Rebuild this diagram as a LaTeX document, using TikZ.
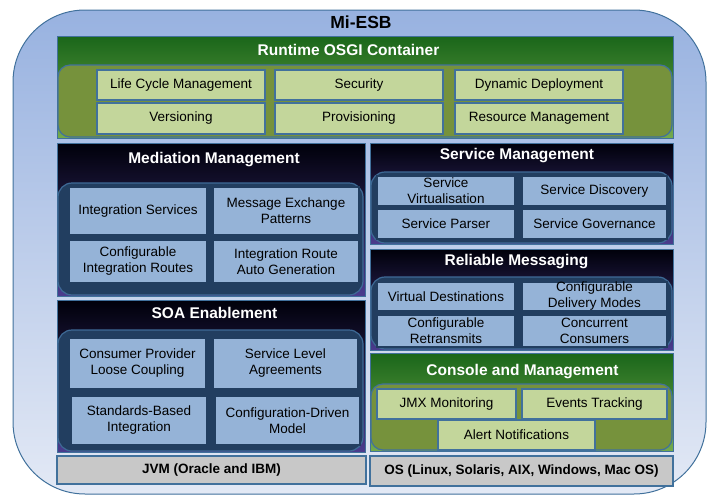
\documentclass[tikz,border=0pt]{standalone}
\usepackage{fontspec}
\setmainfont{Liberation Sans}
\usepackage{tikz}

\definecolor{esbedge}{HTML}{41719C}
\definecolor{skytop}{HTML}{98B2E0}
\definecolor{skybot}{HTML}{E3E9F5}
\definecolor{greentop}{HTML}{1A661A}
\definecolor{greenbot}{HTML}{74AA4C}
\definecolor{olive}{HTML}{76923C}
\definecolor{lgreen}{HTML}{C3D69B}
\definecolor{navytop}{HTML}{00000A}
\definecolor{navybot}{HTML}{4A3C8E}
\definecolor{slate}{HTML}{223E60}
\definecolor{slateedge}{HTML}{3E6A96}
\definecolor{lblue}{HTML}{95B3D7}
\definecolor{lgray}{HTML}{C8C8C8}

\begin{document}
\begin{tikzpicture}[x=1pt,y=-1pt]
        \tikzstyle{frame} = [draw=esbedge, line width=1pt, rounded corners=72pt, top color=skytop, bottom color=skybot, inner sep=0pt]
        \tikzstyle{greenpanel} = [draw=esbedge, line width=1pt, top color=greentop, bottom color=greenbot, inner sep=0pt]
        \tikzstyle{navypanel} = [draw=esbedge, line width=1pt, top color=navytop, bottom color=navybot, inner sep=0pt]
        \tikzstyle{greeninner} = [draw=esbedge, line width=1.2pt, fill=olive, rounded corners=12pt, inner sep=0pt]
        \tikzstyle{navyinner} = [draw=slateedge, line width=1.2pt, fill=slate, rounded corners=14pt, inner sep=0pt]
        \tikzstyle{box} = [draw=esbedge, line width=1.3pt, align=center, inner sep=0pt, font=\fontsize{13.5}{16}\selectfont]
        \tikzstyle{greenbox} = [box, fill=lgreen]
        \tikzstyle{bluebox} = [box, fill=lblue, draw=slate]
        \tikzstyle{graybox} = [box, fill=lgray, font=\fontsize{13.5}{16}\selectfont\bfseries]
        \tikzstyle{title} = [text=white, font=\fontsize{15.5}{18}\selectfont\bfseries]
        \useasboundingbox (0,0) rectangle (710,498);
        % outer frame
        \node[frame, minimum width=693pt, minimum height=484pt] (esb) at (359.5,252) {};
        \node[font=\fontsize{17.5}{20}\selectfont\bfseries] (esbtitle) at (361,22) {Mi-ESB};
        % runtime container
        \node[greenpanel, minimum width=616pt, minimum height=102pt] (runtime) at (365,87) {};
        \node[title] (runtimetitle) at (348.5,50) {Runtime OSGI Container};
        \node[greeninner, minimum width=614pt, minimum height=72pt] (runtimein) at (365,101) {};
        \node[greenbox, minimum width=168pt, minimum height=30pt] (lcm) at (181,85) {Life Cycle Management};
        \node[greenbox, minimum width=168pt, minimum height=31pt] (ver) at (181,118.5) {Versioning};
        \node[greenbox, minimum width=168pt, minimum height=30pt] (sec) at (359,85) {Security};
        \node[greenbox, minimum width=168pt, minimum height=31pt] (prov) at (359,118.5) {Provisioning};
        \node[greenbox, minimum width=168pt, minimum height=30pt] (dyn) at (539,85) {Dynamic Deployment};
        \node[greenbox, minimum width=168pt, minimum height=31pt] (res) at (539,118.5) {Resource Management};
        % mediation management
        \node[navypanel, minimum width=308pt, minimum height=153pt] (med) at (211,219.5) {};
        \node[title] (medtitle) at (214,160) {Mediation Management};
        \node[navyinner, minimum width=305pt, minimum height=112pt] (medin) at (210.5,239) {};
        \node[bluebox, minimum width=138pt, minimum height=48pt] (intsrv) at (138,211) {Integration Services};
        \node[bluebox, minimum width=146pt, minimum height=48pt] (mep) at (286,211) {Message Exchange\\Patterns};
        \node[bluebox, minimum width=138pt, minimum height=43pt] (cir) at (138,261.5) {Configurable\\Integration Routes};
        \node[bluebox, minimum width=146pt, minimum height=43pt] (irag) at (286,261.5) {Integration Route\\Auto Generation};
        % soa enablement
        \node[navypanel, minimum width=308pt, minimum height=152pt] (soa) at (211,376) {};
        \node[title] (soatitle) at (214.5,313) {SOA Enablement};
        \node[navyinner, minimum width=305pt, minimum height=121pt] (soain) at (210.5,390.5) {};
        \node[bluebox, minimum width=137pt, minimum height=51pt] (cplc) at (137.5,363.5) {Consumer Provider\\Loose Coupling};
        \node[bluebox, minimum width=145pt, minimum height=51pt] (sla) at (285.5,363.5) {Service Level\\Agreements};
        \node[bluebox, minimum width=136pt, minimum height=49pt] (sbi) at (139,420.5) {Standards-Based\\Integration};
        \node[bluebox, minimum width=145pt, minimum height=49pt] (cdm) at (287.5,420.5) {Configuration-Driven\\Model};
        % service management
        \node[navypanel, minimum width=303pt, minimum height=101pt] (svc) at (521.5,193.5) {};
        \node[title] (svctitle) at (517,156) {Service Management};
        \node[navyinner, minimum width=301pt, minimum height=71pt] (svcin) at (521.5,207.5) {};
        \node[bluebox, minimum width=138pt, minimum height=30pt] (svirt) at (446,191) {Service\\Virtualisation};
        \node[bluebox, minimum width=145pt, minimum height=30pt] (sdisc) at (594.5,191) {Service Discovery};
        \node[bluebox, minimum width=138pt, minimum height=30pt] (spars) at (446,224) {Service Parser};
        \node[bluebox, minimum width=145pt, minimum height=30pt] (sgov) at (594.5,224) {Service Governance};
        % reliable messaging
        \node[navypanel, minimum width=303pt, minimum height=101pt] (rel) at (521.5,299.5) {};
        \node[title] (reltitle) at (516.5,262) {Reliable Messaging};
        \node[navyinner, minimum width=301pt, minimum height=72pt] (relin) at (521.5,313) {};
        \node[bluebox, minimum width=138pt, minimum height=29pt] (vdest) at (446,296.5) {Virtual Destinations};
        \node[bluebox, minimum width=145pt, minimum height=29pt] (cdel) at (594.5,296.5) {Configurable\\Delivery Modes};
        \node[bluebox, minimum width=138pt, minimum height=32pt] (cretr) at (446,331) {Configurable\\Retransmits};
        \node[bluebox, minimum width=145pt, minimum height=32pt] (ccons) at (594.5,331) {Concurrent\\Consumers};
        % console and management
        \node[greenpanel, minimum width=303pt, minimum height=98pt] (con) at (521.5,402) {};
        \node[title] (contitle) at (522.5,372) {Console and Management};
        \node[greeninner, minimum width=301pt, minimum height=66pt] (conin) at (521.5,417) {};
        \node[greenbox, minimum width=139pt, minimum height=30pt] (jmx) at (446.5,404) {JMX Monitoring};
        \node[greenbox, minimum width=145pt, minimum height=30pt] (evt) at (594.5,404) {Events Tracking};
        \node[greenbox, minimum width=157pt, minimum height=30pt] (alert) at (516.5,435) {Alert Notifications};
        % platform
        \node[graybox, minimum width=309pt, minimum height=28pt] (jvm) at (211.5,470) {JVM (Oracle and IBM)};
        \node[graybox, minimum width=303pt, minimum height=30pt] (os) at (521.5,471) {OS (Linux, Solaris, AIX, Windows, Mac OS)};
    \end{tikzpicture}
\end{document}
